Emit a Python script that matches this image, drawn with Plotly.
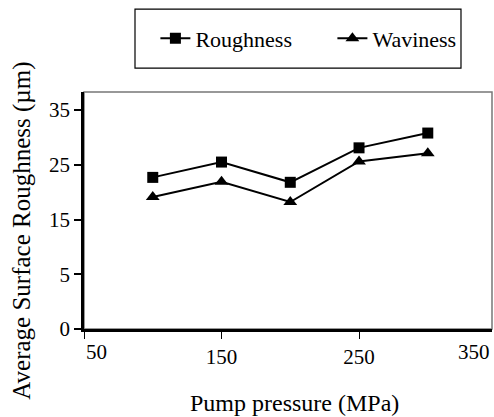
import plotly.graph_objects as go

pressure = [100, 150, 200, 250, 300]
roughness = [22.7, 25.5, 21.8, 28.1, 30.8]
waviness = [19.1, 21.9, 18.2, 25.6, 27.1]

x_ticks = [50, 150, 250]
x_ticktext = ["", "150", "250"]
y_ticks = [-5, 5, 15, 25, 35]
y_ticktext = ["0", "5", "15", "25", "35"]

FONT = "Times New Roman, Liberation Serif, serif"

fig = go.Figure()
fig.add_trace(go.Scatter(
    x=pressure, y=roughness, name="Roughness", mode="lines+markers",
    line=dict(color="black", width=2),
    marker=dict(symbol="square", size=11, color="black"),
))
fig.add_trace(go.Scatter(
    x=pressure, y=waviness, name="Waviness", mode="lines+markers",
    line=dict(color="black", width=2),
    marker=dict(symbol="triangle-up", size=12, color="black"),
))

fig.update_layout(
    width=494, height=417,
    margin=dict(l=84, r=2, t=92, b=88, autoexpand=False),
    paper_bgcolor="white", plot_bgcolor="white",
    font=dict(family=FONT, size=21, color="black"),
    showlegend=True,
    legend=dict(
        orientation="h", x=0.175, xanchor="left", y=1.226, yanchor="middle",
        font=dict(family=FONT, size=22, color="black"),
        bgcolor="rgba(0,0,0,0)", borderwidth=0,
        entrywidth=132, entrywidthmode="pixels",
    ),
    xaxis=dict(
        range=[50, 346.7], tickvals=x_ticks, ticktext=x_ticktext,
        ticks="outside", ticklen=7, tickcolor="black", tickwidth=1,
        showline=True, linecolor="black", linewidth=2.5,
        showgrid=False, zeroline=False,
        tickfont=dict(family=FONT, size=21),
    ),
    yaxis=dict(
        range=[-5, 38.3], tickvals=y_ticks, ticktext=y_ticktext,
        ticks="outside", ticklen=7, tickcolor="black", tickwidth=1.5,
        showline=True, linecolor="black", linewidth=2.5,
        showgrid=False, zeroline=False,
        tickfont=dict(family=FONT, size=21),
    ),
    yaxis2=dict(
        overlaying="y", side="left", anchor="x", range=[-5, 38.3], tickvals=y_ticks,
        ticks="inside", ticklen=7, tickcolor="black", tickwidth=1.5,
        showticklabels=False, showline=False, showgrid=False, zeroline=False,
    ),
    shapes=[
        dict(type="rect", xref="paper", yref="paper", x0=0, x1=1, y0=0, y1=1,
             line=dict(color="#777777", width=1.5), layer="below"),
        dict(type="rect", xref="paper", yref="paper", x0=0.125, x1=0.924, y0=1.101, y1=1.350,
             line=dict(color="black", width=1.2), fillcolor="rgba(0,0,0,0)"),
    ],
    annotations=[
        dict(text="50", xref="paper", yref="paper", x=0, y=-0.097, xanchor="left", yanchor="middle",
             showarrow=False, font=dict(family=FONT, size=21)),
        dict(text="350", xref="paper", yref="paper", x=1, y=-0.097, xanchor="right", yanchor="middle",
             showarrow=False, font=dict(family=FONT, size=21)),
        dict(text="Pump pressure (MPa)", xref="paper", yref="paper",
             x=0.517, y=-0.312, xanchor="center", yanchor="middle",
             showarrow=False, font=dict(family=FONT, size=24)),
        dict(text="Average Surface Roughness (µm)", textangle=-90, xref="paper", yref="paper",
             x=-0.152, y=0.415, xanchor="center", yanchor="middle",
             showarrow=False, font=dict(family=FONT, size=25)),
    ],
)

fig.write_html("out.html")
